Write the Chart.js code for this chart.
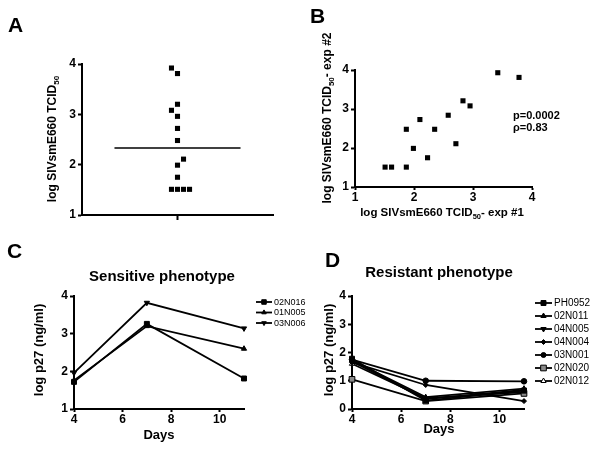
<!DOCTYPE html>
<html><head><meta charset="utf-8">
<script src="https://cdn.jsdelivr.net/npm/chart.js@4.4.1/dist/chart.umd.min.js"></script>
<style>
html,body{margin:0;padding:0;background:#fff;}
#wrap{position:relative;width:600px;height:450px;overflow:hidden;}
canvas{position:absolute;}
</style></head><body>
<div id="wrap">
<canvas id="cA" width="300" height="230" style="left:0;top:0"></canvas>
<canvas id="cB" width="300" height="230" style="left:300px;top:0"></canvas>
<canvas id="cC" width="330" height="220" style="left:0;top:230px"></canvas>
<canvas id="cD" width="300" height="220" style="left:300px;top:230px"></canvas>
</div>
<script>
// ---------- DATA ----------
// Panel A: log SIVsmE660 TCID50 per sample, with horizontal jitter offsets and the mean
const aValues = [3.92, 3.81, 3.20, 3.08, 2.96, 2.72, 2.48, 2.11, 1.99, 1.75, 1.51, 1.51, 1.51, 1.51];
const aJitter = [-0.063, 0, 0, -0.063, 0, 0, 0, 0.063, 0, 0, -0.063, 0, 0.063, 0.126];
const aMean = 2.33;
const aYTicks = [1, 2, 3, 4];
// Panel B: exp #1 vs exp #2
const bExp1 = [1.51, 1.62, 1.87, 1.87, 1.99, 2.10, 2.23, 2.35, 2.58, 2.71, 2.83, 2.95, 3.42, 3.78];
const bExp2 = [1.51, 1.51, 1.51, 2.48, 1.99, 2.73, 1.75, 2.48, 2.84, 2.11, 3.21, 3.08, 3.93, 3.81];
const bTicks = [1, 2, 3, 4];
const bStats = ['p=0.0002', '\u03C1=0.83'];
// Panels C & D: log p27 by day
const days = [4, 7, 11];
const dayTicks = [4, 6, 8, 10];
const cNames = ['02N016', '01N005', '03N006'];
const c02N016 = [1.72, 3.26, 1.81];
const c01N005 = [1.76, 3.20, 2.60];
const c03N006 = [1.96, 3.82, 3.14];
const cYTicks = [1, 2, 3, 4];
const dNames = ['PH0952', '02N011', '04N005', '04N004', '03N001', '02N020', '02N012'];
const dPH0952 = [1.78, 0.30, 0.65];
const d02N011 = [1.72, 0.42, 0.72];
const d04N005 = [1.68, 0.35, 0.68];
const d04N004 = [1.65, 0.85, 0.28];
const d03N001 = [1.75, 1.00, 0.98];
const d02N020 = [1.05, 0.28, 0.55];
const d02N012 = [1.60, 0.38, 0.60];
const dYTicks = [0, 1, 2, 3, 4];

// ---------- HELPERS ----------
const FONT = '"Liberation Sans", Arial, sans-serif';
function scale(pos, min, max, tickVals, fit, showLabels, tl) {
  const isY = pos === 'left';
  return {
    type: 'linear', position: pos, min: min, max: max,
    afterBuildTicks: s => { s.ticks = tickVals.map(v => ({ value: v })); },
    afterFit: s => { if (isY) s.width = fit; else s.height = fit; },
    border: { display: true, color: '#000', width: 2 },
    grid: { display: true, drawOnChartArea: false, drawTicks: true, tickLength: tl || (isY ? 4 : 3), tickColor: '#000', tickWidth: 2, color: '#000' },
    ticks: { color: '#000', padding: isY ? 2 : 0, font: { family: FONT, size: 12, weight: 'bold' },
      callback: v => showLabels === false ? '' : String(v) }
  };
}
function rich(ctx, parts, x, y, rot, align) {
  ctx.save(); ctx.translate(x, y); if (rot) ctx.rotate(rot);
  let w = 0;
  parts.forEach(p => { ctx.font = 'bold ' + p.s + 'px ' + FONT; p.w = ctx.measureText(p.t).width; w += p.w; });
  let cx = align === 'left' ? 0 : -w / 2;
  ctx.fillStyle = '#000'; ctx.textBaseline = 'alphabetic'; ctx.textAlign = 'left';
  parts.forEach(p => { ctx.font = 'bold ' + p.s + 'px ' + FONT; ctx.fillText(p.t, cx, p.dy || 0); cx += p.w; });
  ctx.restore();
}
function textPlugin(items) {
  return { id: 'txt', afterDraw(chart) { items.forEach(it => rich(chart.ctx, it.parts, it.x, it.y, it.rot, it.align)); } };
}
function legendPlugin(x0, x1, tx, y0, dy, size) {
  return { id: 'lg', afterDraw(chart) {
    const ctx = chart.ctx;
    chart.data.datasets.forEach((ds, i) => {
      const y = y0 + i * dy;
      ctx.save();
      ctx.strokeStyle = '#000'; ctx.lineWidth = ds.borderWidth;
      ctx.beginPath(); ctx.moveTo(x0, y); ctx.lineTo(x1, y); ctx.stroke();
      ctx.fillStyle = ds.pointBackgroundColor || '#000'; ctx.strokeStyle = '#000'; ctx.lineWidth = 1;
      Chart.helpers.drawPoint(ctx, { pointStyle: ds.pointStyle, radius: ds.legendRadius || 3, rotation: ds.pointRotation || 0, borderWidth: 1 }, (x0 + x1) / 2, y);
      ctx.fillStyle = '#000'; ctx.font = size + 'px ' + FONT; ctx.textBaseline = 'middle'; ctx.textAlign = 'left';
      ctx.fillText(ds.label, tx, y + 0.5);
      ctx.restore();
    });
  } };
}
function letter(ch, x, y) { return { parts: [{ t: ch, s: 21 }], x: x, y: y, align: 'left' }; }
const baseOpts = { responsive: false, animation: false, events: [],
  plugins: { legend: { display: false }, tooltip: { enabled: false } } };

// ---------- PANEL A ----------
new Chart(document.getElementById('cA'), {
  type: 'scatter',
  data: { datasets: [
    { label: 'samples', data: aValues.map((v, i) => ({ x: 1 + aJitter[i], y: v })),
      pointStyle: 'rect', pointRadius: 3.6, borderWidth: 0, backgroundColor: '#000', clip: false },
    { label: 'mean', data: [{ x: 0.34, y: aMean }, { x: 1.66, y: aMean }], showLine: true,
      pointRadius: 0, borderColor: '#000', borderWidth: 1.5, clip: false }
  ] },
  options: Object.assign({}, baseOpts, {
    layout: { padding: { left: 0, top: 64, right: 27, bottom: 0 } },
    scales: { x: scale('bottom', 0, 2, [1], 15, false, 5), y: scale('left', 1, 4, aYTicks, 82) }
  }),
  plugins: [textPlugin([
    letter('A', 8, 32),
    { parts: [{ t: 'log SIVsmE660 TCID', s: 12 }, { t: '50', s: 8, dy: 3 }], x: 56, y: 139, rot: -Math.PI / 2 }
  ])]
});

// ---------- PANEL B ----------
new Chart(document.getElementById('cB'), {
  type: 'scatter',
  data: { datasets: [
    { label: 'exp', data: bExp1.map((v, i) => ({ x: v, y: bExp2[i] })),
      pointStyle: 'rect', pointRadius: 3.6, borderWidth: 0, backgroundColor: '#000', clip: false }
  ] },
  options: Object.assign({}, baseOpts, {
    layout: { padding: { left: 0, top: 70, right: 68, bottom: 0 } },
    scales: { x: scale('bottom', 1, 4, bTicks, 43), y: scale('left', 1, 4, bTicks, 55) }
  }),
  plugins: [textPlugin([
    letter('B', 10, 23),
    { parts: [{ t: 'log SIVsmE660 TCID', s: 12 }, { t: '50', s: 8, dy: 3 }, { t: '- exp #2', s: 12 }], x: 31, y: 118, rot: -Math.PI / 2 },
    { parts: [{ t: 'log SIVsmE660 TCID', s: 11.5 }, { t: '50', s: 7.5, dy: 3 }, { t: '- exp #1', s: 11.5 }], x: 142, y: 216 },
    { parts: [{ t: bStats[0], s: 11 }], x: 213, y: 119, align: 'left' },
    { parts: [{ t: bStats[1], s: 11 }], x: 213, y: 131, align: 'left' }
  ])]
});

// ---------- PANEL C ----------
function lineDs(label, vals, style, opts) {
  return Object.assign({ label: label, data: days.map((d, i) => ({ x: d, y: vals[i] })), showLine: true,
    borderColor: '#000', borderWidth: 1.8, pointStyle: style, pointRadius: 3, pointBorderWidth: 1,
    pointBorderColor: '#000', pointBackgroundColor: '#000', clip: false, legendRadius: 3 }, opts || {});
}
new Chart(document.getElementById('cC'), {
  type: 'scatter',
  data: { datasets: [
    lineDs(cNames[0], c02N016, 'rect', { pointRadius: 3.5, legendRadius: 3.2 }),
    lineDs(cNames[1], c01N005, 'triangle', { legendRadius: 2.6 }),
    lineDs(cNames[2], c03N006, 'triangle', { pointRotation: 180, legendRadius: 2.6 })
  ] },
  options: Object.assign({}, baseOpts, {
    layout: { padding: { left: 0, top: 66, right: 86, bottom: 0 } },
    scales: { x: scale('bottom', 4, 11, dayTicks, 41), y: scale('left', 1, 4, cYTicks, 74) }
  }),
  plugins: [textPlugin([
    letter('C', 7, 28),
    { parts: [{ t: 'Sensitive phenotype', s: 15 }], x: 162, y: 51 },
    { parts: [{ t: 'log p27 (ng/ml)', s: 13 }], x: 43, y: 120, rot: -Math.PI / 2 },
    { parts: [{ t: 'Days', s: 13 }], x: 159, y: 209 }
  ]), legendPlugin(256, 272, 274, 72, 10.5, 9)]
});

// ---------- PANEL D ----------
new Chart(document.getElementById('cD'), {
  type: 'scatter',
  data: { datasets: [
    lineDs(dNames[0], dPH0952, 'rect', { pointRadius: 3.5, legendRadius: 3.5 }),
    lineDs(dNames[1], d02N011, 'triangle'),
    lineDs(dNames[2], d04N005, 'triangle', { pointRotation: 180 }),
    lineDs(dNames[3], d04N004, 'rectRot', { pointRadius: 2.5, legendRadius: 2.5 }),
    lineDs(dNames[4], d03N001, 'circle', { pointRadius: 2.8, legendRadius: 2.5 }),
    lineDs(dNames[5], d02N020, 'rect', { pointRadius: 4, legendRadius: 4, pointBackgroundColor: '#8a8a8a' }),
    lineDs(dNames[6], d02N012, 'triangle', { pointBackgroundColor: '#fff' })
  ] },
  options: Object.assign({}, baseOpts, {
    layout: { padding: { left: 0, top: 66, right: 76, bottom: 0 } },
    scales: { x: scale('bottom', 4, 11, dayTicks, 41), y: scale('left', 0, 4, dYTicks, 52) }
  }),
  plugins: [textPlugin([
    letter('D', 25, 37),
    { parts: [{ t: 'Resistant phenotype', s: 15 }], x: 139, y: 47 },
    { parts: [{ t: 'log p27 (ng/ml)', s: 13 }], x: 33, y: 120, rot: -Math.PI / 2 },
    { parts: [{ t: 'Days', s: 13 }], x: 139, y: 203 }
  ]), legendPlugin(235, 252, 254, 73, 13, 10)]
});
</script>
</body></html>
